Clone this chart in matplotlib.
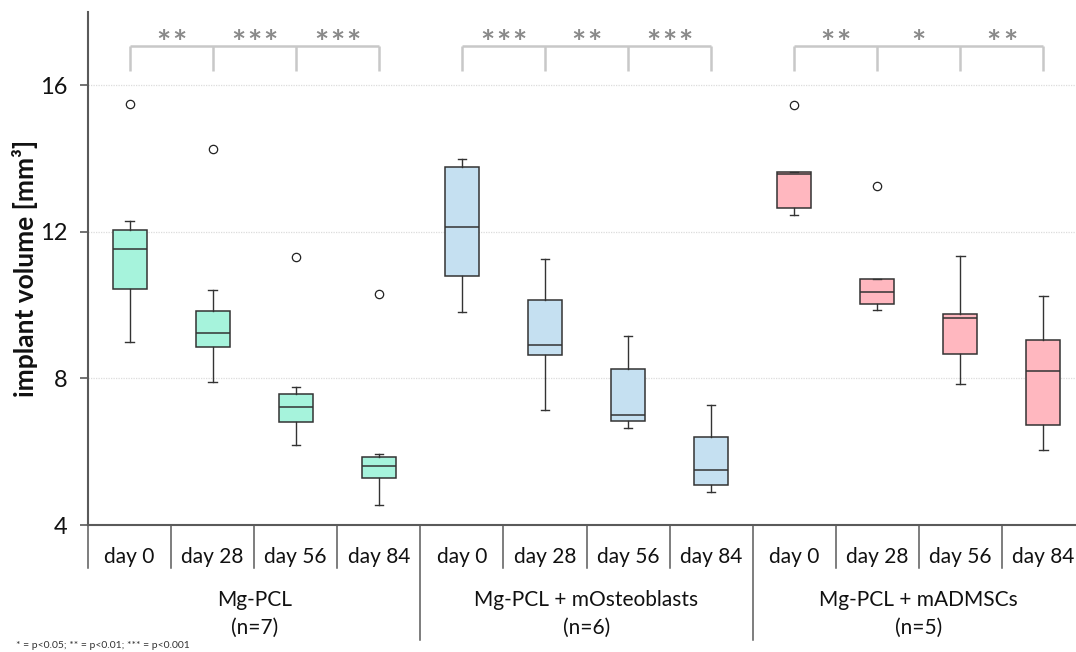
import matplotlib
matplotlib.use("Agg")
import matplotlib.pyplot as plt
import matplotlib.transforms as mtransforms
import numpy as np

# ---------------- data ----------------
days = ["day 0", "day 28", "day 56", "day 84"]
groups = ["Mg-PCL\n(n=7)", "Mg-PCL + mOsteoblasts\n(n=6)", "Mg-PCL + mADMSCs\n(n=5)"]
group_colors = ["#a6f3dc", "#c5e0f1", "#ffb7bf"]

whislo = [9.00, 7.90, 6.18, 4.55,   9.82, 7.14, 6.66, 4.90,   12.45, 9.88, 7.84, 6.04]
q1     = [10.44, 8.85, 6.80, 5.29,  10.79, 8.63, 6.84, 5.09,  12.66, 10.03, 8.66, 6.74]
median = [11.54, 9.23, 7.23, 5.61,  12.12, 8.90, 7.00, 5.49,  13.57, 10.35, 9.64, 8.20]
q3     = [12.04, 9.84, 7.57, 5.85,  13.76, 10.15, 8.25, 6.40,  13.63, 10.70, 9.75, 9.06]
whishi = [12.29, 10.41, 7.77, 5.94, 13.99, 11.27, 9.16, 7.28,  13.63, 10.70, 11.34, 10.25]
fliers = [[15.48], [14.25], [11.32], [10.30], [], [], [], [], [15.45], [13.25], [], []]

significance = [["**", "***", "***"], ["***", "**", "***"], ["**", "*", "**"]]
yticks = [4, 8, 12, 16]
footnote = "* = p<0.05; ** = p<0.01; *** = p<0.001"

# ---------------- figure ----------------
font = "Lato"
plt.rcParams["font.family"] = [font, "DejaVu Sans"]
fig = plt.figure(figsize=(10.76, 6.52), dpi=100)
ax = fig.add_axes([88/1076, (652-525)/652, (1085-88)/1076, (525-12)/652])

n = len(median)
positions = np.arange(n)
stats = []
for i in range(n):
    stats.append(dict(med=median[i], q1=q1[i], q3=q3[i], whislo=whislo[i],
                      whishi=whishi[i], fliers=fliers[i]))

edge = "#333333"
bp = ax.bxp(stats, positions=positions, widths=0.41, patch_artist=True,
            showfliers=True, capwidths=0.1,
            boxprops=dict(edgecolor=edge, linewidth=1.1),
            medianprops=dict(color=edge, linewidth=1.1),
            whiskerprops=dict(color=edge, linewidth=1.0),
            capprops=dict(color=edge, linewidth=1.0),
            flierprops=dict(marker="o", markersize=6, markerfacecolor="white",
                            markeredgecolor="#222222", markeredgewidth=0.9))
for i, b in enumerate(bp["boxes"]):
    b.set_facecolor(group_colors[i // 4])

ax.set_xlim(-0.5, n - 0.5)
ax.set_ylim(4, 18.0)

# grid
for yv in yticks[1:]:
    ax.axhline(yv, color="#dcdcdc", linestyle=(0, (1, 1)), linewidth=0.9, zorder=0)

# spines
for s in ["top", "right"]:
    ax.spines[s].set_visible(False)
spcol = "#5a5a5a"
ax.spines["left"].set_color(spcol)
ax.spines["bottom"].set_color(spcol)
ax.spines["left"].set_linewidth(1.5)
ax.spines["bottom"].set_linewidth(1.5)

ax.set_yticks(yticks)
ax.set_yticklabels([str(v) for v in yticks], fontsize=17, color="#111111")
ax.tick_params(axis="y", length=6, width=1.2, color=spcol, pad=9)
ax.set_xticks([])

ax.set_ylabel("implant volume [mm³]", fontsize=19, fontweight="bold",
              color="#111111")
ax.yaxis.set_label_coords(-0.050, 0.50)

# x-axis category table
trans = mtransforms.blended_transform_factory(ax.transData, ax.transAxes)
px_per_axes = (525 - 12)
def ya(py):
    return (525 - py) / px_per_axes

for i in range(n):
    ax.text(positions[i], ya(557), days[i % 4], transform=trans, ha="center",
            va="center", fontsize=15, color="#111111")
for bnd in np.arange(-0.5, n, 1.0):
    if bnd == -0.5:
        y_end = 568
    elif bnd == n - 0.5:
        continue
    elif (bnd + 0.5) % 4 == 0:
        y_end = 640
    else:
        y_end = 568
    ax.plot([bnd, bnd], [0, ya(y_end)], transform=trans, color=spcol,
            linewidth=1.1, clip_on=False)

for g, lab in enumerate(groups):
    ax.text(g * 4 + 1.5, ya(614), lab, transform=trans, ha="center",
            va="center", fontsize=15, color="#111111", linespacing=1.45)

# significance brackets
brcol = "#c8c8c8"
star_gap_pt = 11.7
for g in range(3):
    xs = positions[g*4:(g+1)*4]
    ax.plot([xs[0], xs[-1]], [ya(46), ya(46)], transform=trans, color=brcol,
            linewidth=1.8, clip_on=False, solid_capstyle="butt")
    for x in xs:
        ax.plot([x, x], [ya(46), ya(71)], transform=trans, color=brcol,
                linewidth=1.8, clip_on=False, solid_capstyle="butt")
    for k in range(3):
        m = len(significance[g][k])
        xc = (xs[k] + xs[k+1]) / 2
        for j in range(m):
            off = (j - (m - 1) / 2) * star_gap_pt
            ax.annotate("*", xy=(xc, ya(45)), xycoords=trans,
                        xytext=(off, 0), textcoords="offset points",
                        ha="center", va="center", fontsize=24,
                        color="#8a8a8a", fontweight="bold",
                        annotation_clip=False)

fig.text(16/1076, 1 - 645/652, footnote, fontsize=7.5, color="#333333",
         ha="left", va="center")

fig.savefig("out.png", dpi=100)
